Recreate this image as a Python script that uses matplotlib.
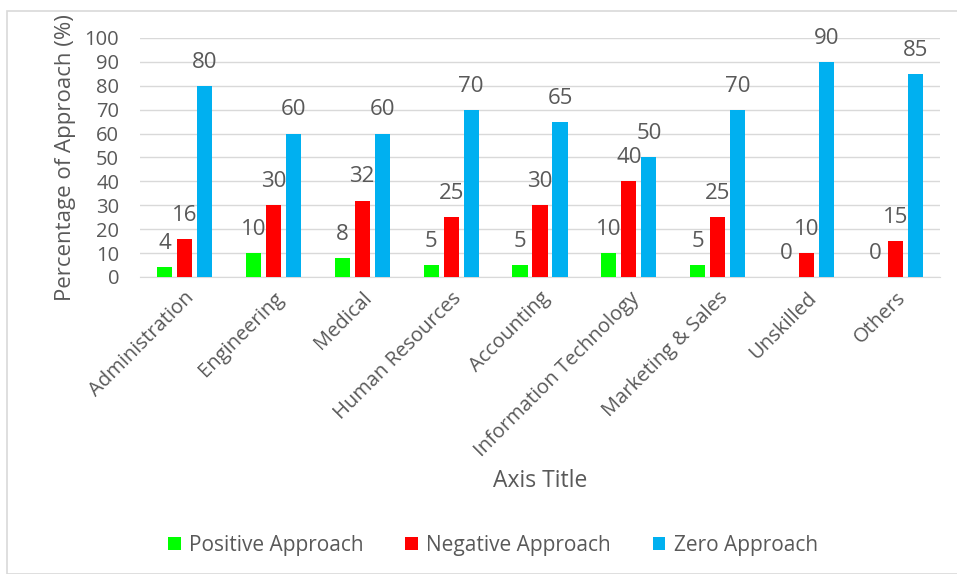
import matplotlib
matplotlib.use("Agg")
import matplotlib.pyplot as plt
import numpy as np
from matplotlib.patches import Rectangle

categories = ["Administration", "Engineering", "Medical", "Human Resources", "Accounting",
              "Information Technology", "Marketing & Sales", "Unskilled", "Others"]
positive = [4, 10, 8, 5, 5, 10, 5, 0, 0]
negative = [16, 30, 32, 25, 30, 40, 25, 10, 15]
zero = [80, 60, 60, 70, 65, 50, 70, 90, 85]
series_names = ["Positive Approach", "Negative Approach", "Zero Approach"]
colors = ["#00ff00", "#ff0000", "#00b0f0"]
yticks = list(range(0, 101, 10))

plt.rcParams['font.family'] = ['Open Sans', 'DejaVu Sans']
txt = "#595959"

fig = plt.figure(figsize=(9.57, 5.74), dpi=100)
fig.patches.append(Rectangle((7/957, 0), 1.0, 1 - 11/574, transform=fig.transFigure,
                             fill=False, edgecolor="#d9d9d9", linewidth=1.2))
ax = fig.add_axes([140/957, 1 - 277/574, 800/957, 239/574])

x = np.arange(len(categories))
w = 0.17
step = 0.225
for i, (vals, name, c) in enumerate(zip([positive, negative, zero], series_names, colors)):
    xs = x + (i - 1) * step
    ax.bar(xs, vals, width=w, color=c, label=name, zorder=3)
    for xi, v in zip(xs, vals):
        ax.annotate(str(v), (xi, v), xytext=(0, 17), textcoords="offset points",
                    ha="center", va="center", fontsize=16, color=txt)

ax.set_xlim(-0.5, len(categories) - 0.5)
ax.set_ylim(0, 100)
ax.set_yticks(yticks)
ax.yaxis.grid(True, color="#d9d9d9", linewidth=1, zorder=0)
ax.set_axisbelow(True)
for s in ["left", "right", "top"]:
    ax.spines[s].set_visible(False)
ax.spines["bottom"].set_color("#d9d9d9")
ax.tick_params(axis="both", length=0, labelsize=14.5, colors=txt)
ax.tick_params(axis="y", pad=15)
ax.set_xticks(x)
ax.set_xticklabels(categories, rotation=45, ha="right", rotation_mode="anchor")
ax.tick_params(axis="x", pad=8)
ax.set_ylabel("Percentage of Approach (%)", fontsize=16, color=txt, labelpad=6)

fig.text(540/957, 1 - 481/574, "Axis Title", ha="center", va="center", fontsize=16.5, color=txt)

handles, labels = ax.get_legend_handles_labels()
fig.legend(handles, labels, loc="center", bbox_to_anchor=(493/957, 1 - 545/574), ncol=3,
           frameon=False, fontsize=15, labelcolor=txt, handlelength=0.6, handleheight=0.6,
           handletextpad=0.4, columnspacing=2.0)

fig.savefig("out.png", dpi=100)
